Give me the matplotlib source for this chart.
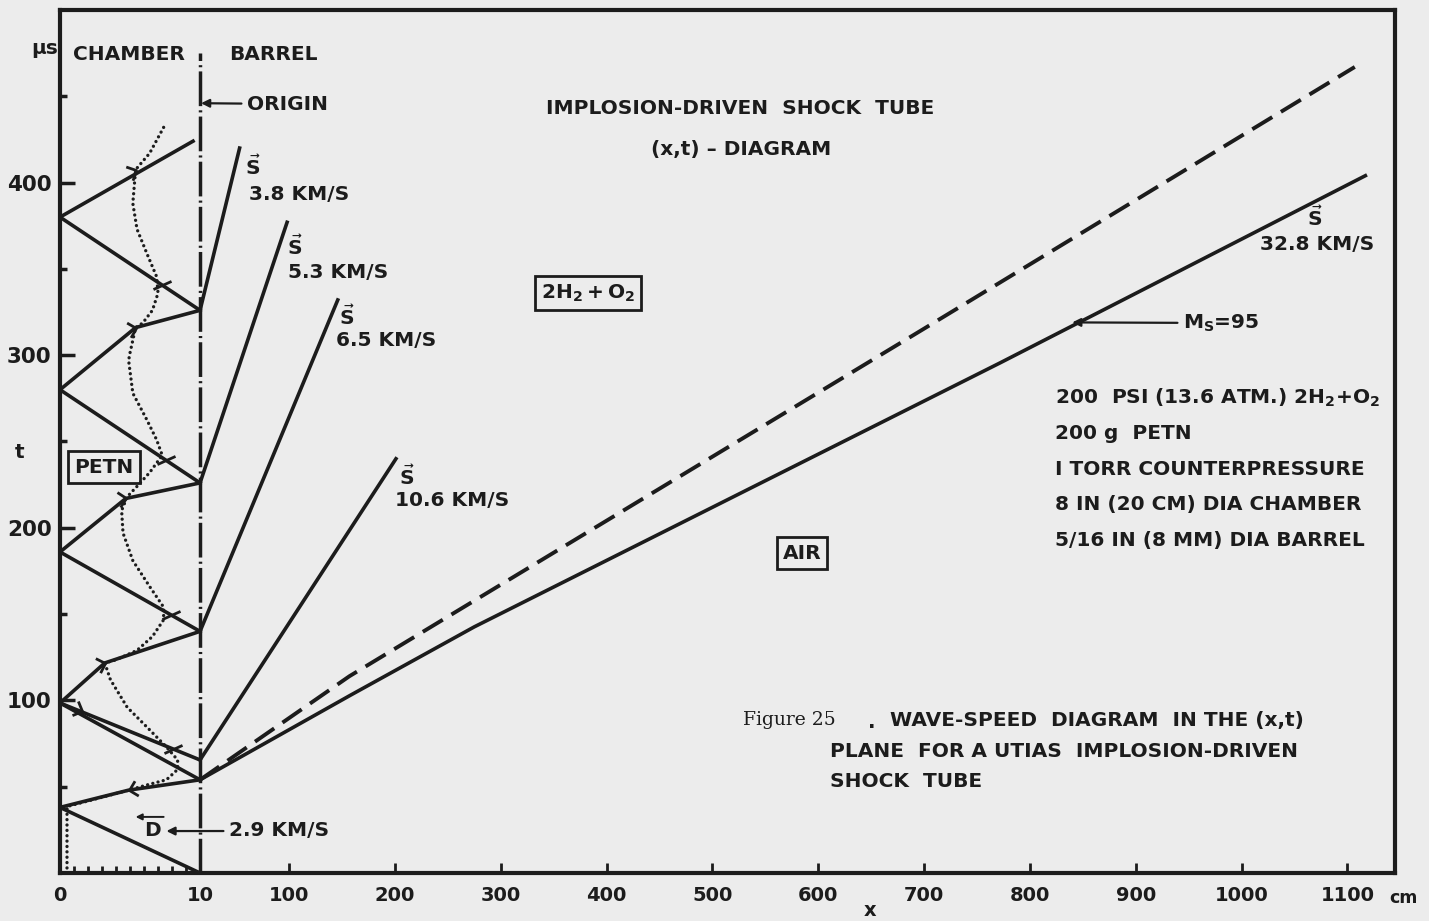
import numpy as np
import matplotlib
matplotlib.use('Agg')
import matplotlib.pyplot as plt
from matplotlib.path import Path
from matplotlib.markers import MarkerStyle
from matplotlib.transforms import Affine2D

plt.rcParams['font.family'] = ['DejaVu Sans']
plt.rcParams['font.weight'] = 'bold'
plt.rcParams['mathtext.fontset'] = 'custom'
plt.rcParams['mathtext.sf'] = 'DejaVu Sans:bold'
plt.rcParams['mathtext.rm'] = 'DejaVu Sans:bold'

INK = '#1c1c1c'
PAPER = '#ececec'

# hand drawn x axis: chamber (0-10 cm) stretched, barrel compressed after it
scale_x = [-1000, 0, 10, 100, 3000]
scale_u = [-14000, 0, 140, 229, 229 + 2900 * 1.058]


def fwd(x):
    return np.interp(x, scale_x, scale_u)


def inv(u):
    return np.interp(u, scale_u, scale_x)


# ---- data (x in cm, t in microseconds) ----
# wave lines inside the chamber
chamber_x = [[0, 9.5], [0, 10], [10, 5.4, 0], [0, 10], [10, 4.7, 0], [0, 10],
             [10, 3.2, 0], [0, 10], [0, 10], [0, 4.9, 10], [0, 10]]
chamber_t = [[380, 424], [380, 326], [326, 316, 280], [280, 226], [226, 217, 186],
             [186, 140], [140, 121.7, 98.5], [98.5, 65.5], [98.5, 54], [38, 48, 54],
             [38, 0]]

# dotted path in the chamber
path_x = [7.4, 6.4, 5.4, 5.2, 5.5, 6.2, 6.9, 7.0, 6.6, 5.9, 5.4, 5.0, 4.9, 5.2, 6.2,
          6.9, 7.3, 6.4, 5.5, 4.8, 4.4, 4.5, 5.2, 6.4, 7.4, 7.4, 6.6, 5.5, 4.0, 3.2,
          3.6, 4.8, 6.2, 7.6, 8.4, 8.4, 7.6, 6.2, 4.9, 0.5, 0.5]
path_t = [432, 417, 407.5, 388, 373, 359, 345.5, 336, 326, 318.6, 316, 301.4, 297, 278,
          262.6, 251, 242, 232, 224, 218, 210, 197, 181, 166, 154, 146.7, 137, 129,
          123.5, 121.7, 112, 96, 84.6, 73, 65.5, 60, 54, 51, 48, 38.5, 0]

# arrow marks on chamber waves (point, then a point giving direction)
chev_x = [5.4, 5.4, 4.7, 3.2, 1.6, 4.9]
chev_t = [407.5, 316, 217, 121.7, 94, 48]
chev_dx = [9.5, 10, 10, 10, 10, 0]
chev_dt = [424, 326, 226, 140, 65.5, 38]

# crossing ticks
cross_x = [7.3, 7.6, 7.9, 8.1]
cross_t = [340.6, 239, 149.7, 71.8]

# transmitted shocks in the barrel
shock_speed = ['3.8', '5.3', '6.5', '10.6']
shock_x0 = [10, 10, 10, 10]
shock_t0 = [326, 226, 140, 65.5]
shock_x1 = [50, 98, 146, 201]
shock_t1 = [420, 377, 332, 240]

# main shock (32.8 km/s) and contact surface
main_x = [10, 158, 275, 772, 1117]
main_t = [54, 103, 142.6, 295.6, 404]
contact_x = [10, 157, 699, 1107]
contact_t = [54, 114, 315, 467]

xticks = [0, 10, 100, 200, 300, 400, 500, 600, 700, 800, 900, 1000, 1100]
xminor = [1, 2, 3, 4, 5, 6, 7, 8, 9]
yticks = [100, 200, 300, 400]
yminor = [50, 150, 250, 350, 450]

params = ['200  PSI (13.6 ATM.) 2H$_2$+O$_2$', '200 g  PETN', 'I TORR COUNTERPRESSURE',
          '8 IN (20 CM) DIA CHAMBER', '5/16 IN (8 MM) DIA BARREL']

W, H = 1429, 921


def P(x, y):
    # pixel position -> figure fraction
    return x / W, 1 - y / H


fig = plt.figure(figsize=(W / 100, H / 100), dpi=100, facecolor=PAPER)
ax = fig.add_axes([60 / W, 48 / H, (1395 - 60) / W, (873 - 10) / H], facecolor=PAPER)
ax.set_xscale('function', functions=(fwd, inv))
ax.set_xlim(0, 1145)
ax.set_ylim(0, 500)

for s in ax.spines.values():
    s.set_linewidth(3)
    s.set_color(INK)

ax.set_xticks(xticks)
ax.set_xticklabels([str(v) for v in xticks])
ax.set_xticks(xminor, minor=True)
ax.set_yticks(yticks)
ax.set_yticks(yminor, minor=True)
ax.tick_params(axis='x', which='major', direction='in', length=7, width=2, pad=9,
               labelsize=14, colors=INK)
ax.tick_params(axis='x', which='minor', direction='in', length=5, width=2, colors=INK)
ax.tick_params(axis='y', which='major', direction='in', length=11, width=2.5, pad=6,
               labelsize=15.5, colors=INK)
ax.tick_params(axis='y', which='minor', direction='in', length=5, width=2.5, colors=INK)
ax.tick_params(top=False, right=False)
for tk in ax.xaxis.get_major_ticks()[:2]:
    tk.tick1line.set_visible(False)

lw = 2.6
for xs, ts in zip(chamber_x, chamber_t):
    ax.plot(xs, ts, color=INK, lw=lw, solid_joinstyle='miter')

ax.plot(path_x, path_t, color=INK, lw=2.4, linestyle=(0, (0.01, 1.6)),
        dash_capstyle='round')

# origin line between chamber and barrel
ax.plot([10, 10], [0, 475], color=INK, lw=2.5, linestyle=(0, (10, 1.2, 0.6, 1.2)))

for i in range(len(shock_speed)):
    ax.plot([shock_x0[i], shock_x1[i]], [shock_t0[i], shock_t1[i]], color=INK, lw=lw)

ax.plot(main_x, main_t, color=INK, lw=lw)
ax.plot(contact_x, contact_t, color=INK, lw=2.8, linestyle=(0, (6, 2.6)))

# direction marks
chev = Path([(-1, 1), (0, 0), (-1, -1)], [Path.MOVETO, Path.LINETO, Path.LINETO])
for x, t, xd, td in zip(chev_x, chev_t, chev_dx, chev_dt):
    p0 = ax.transData.transform((x, t))
    p1 = ax.transData.transform((xd, td))
    ang = np.degrees(np.arctan2(p1[1] - p0[1], p1[0] - p0[0]))
    m = MarkerStyle(chev, fillstyle='none', transform=Affine2D().rotate_deg(ang))
    ax.plot([x], [t], marker=m, ms=11, mec=INK, mew=2, ls='none')

tick_m = Path([(-1, -0.45), (1, 0.45)], [Path.MOVETO, Path.LINETO])
ax.plot(cross_x, cross_t, marker=MarkerStyle(tick_m, fillstyle='none'), ms=13,
        mec=INK, mew=2, ls='none')

# ---- text ----
fs = 14.5
txt = dict(color=INK, fontsize=fs, va='center')
fig.text(*P(45, 48), 'μs', ha='center', **txt)
fig.text(*P(20, 452), 't', ha='center', **txt)
fig.text(*P(870, 910), 'x', ha='center', color=INK, fontsize=14, va='center')
fig.text(*P(1389, 898), 'cm', ha='left', color=INK, fontsize=12.5, va='center')
fig.text(*P(129, 54), 'CHAMBER', ha='center', **txt)
fig.text(*P(273, 54), 'BARREL', ha='center', **txt)
fig.text(*P(740, 108), 'IMPLOSION-DRIVEN  SHOCK  TUBE', ha='center', **txt)
fig.text(*P(741, 150), '(x,t) – DIAGRAM', ha='center', **txt)

svec = [(253, 167), (295, 247), (347, 317), (407, 477)]
slab = [(249, 195), (288, 273), (336, 340), (395, 500)]
for (sx, sy), (lx, ly), sp in zip(svec, slab, shock_speed):
    fig.text(*P(sx, sy), r'$\vec{\mathsf{S}}$', ha='center', **txt)
    fig.text(*P(lx, ly), sp + ' KM/S', ha='left', **txt)
fig.text(*P(1315, 218), r'$\vec{\mathsf{S}}$', ha='center', **txt)
fig.text(*P(1260, 245), '32.8 KM/S', ha='left', **txt)

for i, line in enumerate(params):
    fig.text(*P(1055, 398 + i * 35.5), line, ha='left', **txt)

box = dict(boxstyle='square,pad=0.3', fc='none', ec=INK, lw=2)
fig.text(*P(588, 293), r'$\mathsf{2H_2+O_2}$', ha='center', bbox=box, **txt)
fig.text(*P(104, 467), 'PETN', ha='center', bbox=box, **txt)
fig.text(*P(802, 553), 'AIR', ha='center', bbox=box, **txt)

arr = dict(arrowstyle='-|>', color=INK, lw=1.6, mutation_scale=12, shrinkA=2, shrinkB=0)
ax.annotate('ORIGIN', xy=(11, 446), xytext=P(247, 104), textcoords='figure fraction',
            ha='left', arrowprops=arr, **txt)
ax.annotate('2.9 KM/S', xy=(7.6, 24.3), xytext=P(229, 831), textcoords='figure fraction',
            ha='left', arrowprops=arr, **txt)
ax.annotate('M$_\\mathsf{S}$=95', xy=(840, 319), xytext=P(1183, 323),
            textcoords='figure fraction', ha='left', arrowprops=arr, **txt)
fig.text(*P(152, 830), 'D', ha='center', **txt)
ax.annotate('', xy=(5.2, 32.5), xytext=(7.6, 32.5),
            arrowprops=dict(arrowstyle='-|>', color=INK, lw=1.4, mutation_scale=9))

fig.text(*P(743, 720), 'Figure 25', ha='left', family='DejaVu Serif', weight='normal',
         color=INK, fontsize=13.5, va='center')
fig.text(*P(868, 722), '.', ha='left', **txt)
fig.text(*P(890, 720), 'WAVE-SPEED  DIAGRAM  IN THE (x,t)', ha='left', **txt)
fig.text(*P(830, 751), 'PLANE  FOR A UTIAS  IMPLOSION-DRIVEN', ha='left', **txt)
fig.text(*P(830, 781), 'SHOCK  TUBE', ha='left', **txt)

fig.savefig('out.png', dpi=100, facecolor=PAPER)
